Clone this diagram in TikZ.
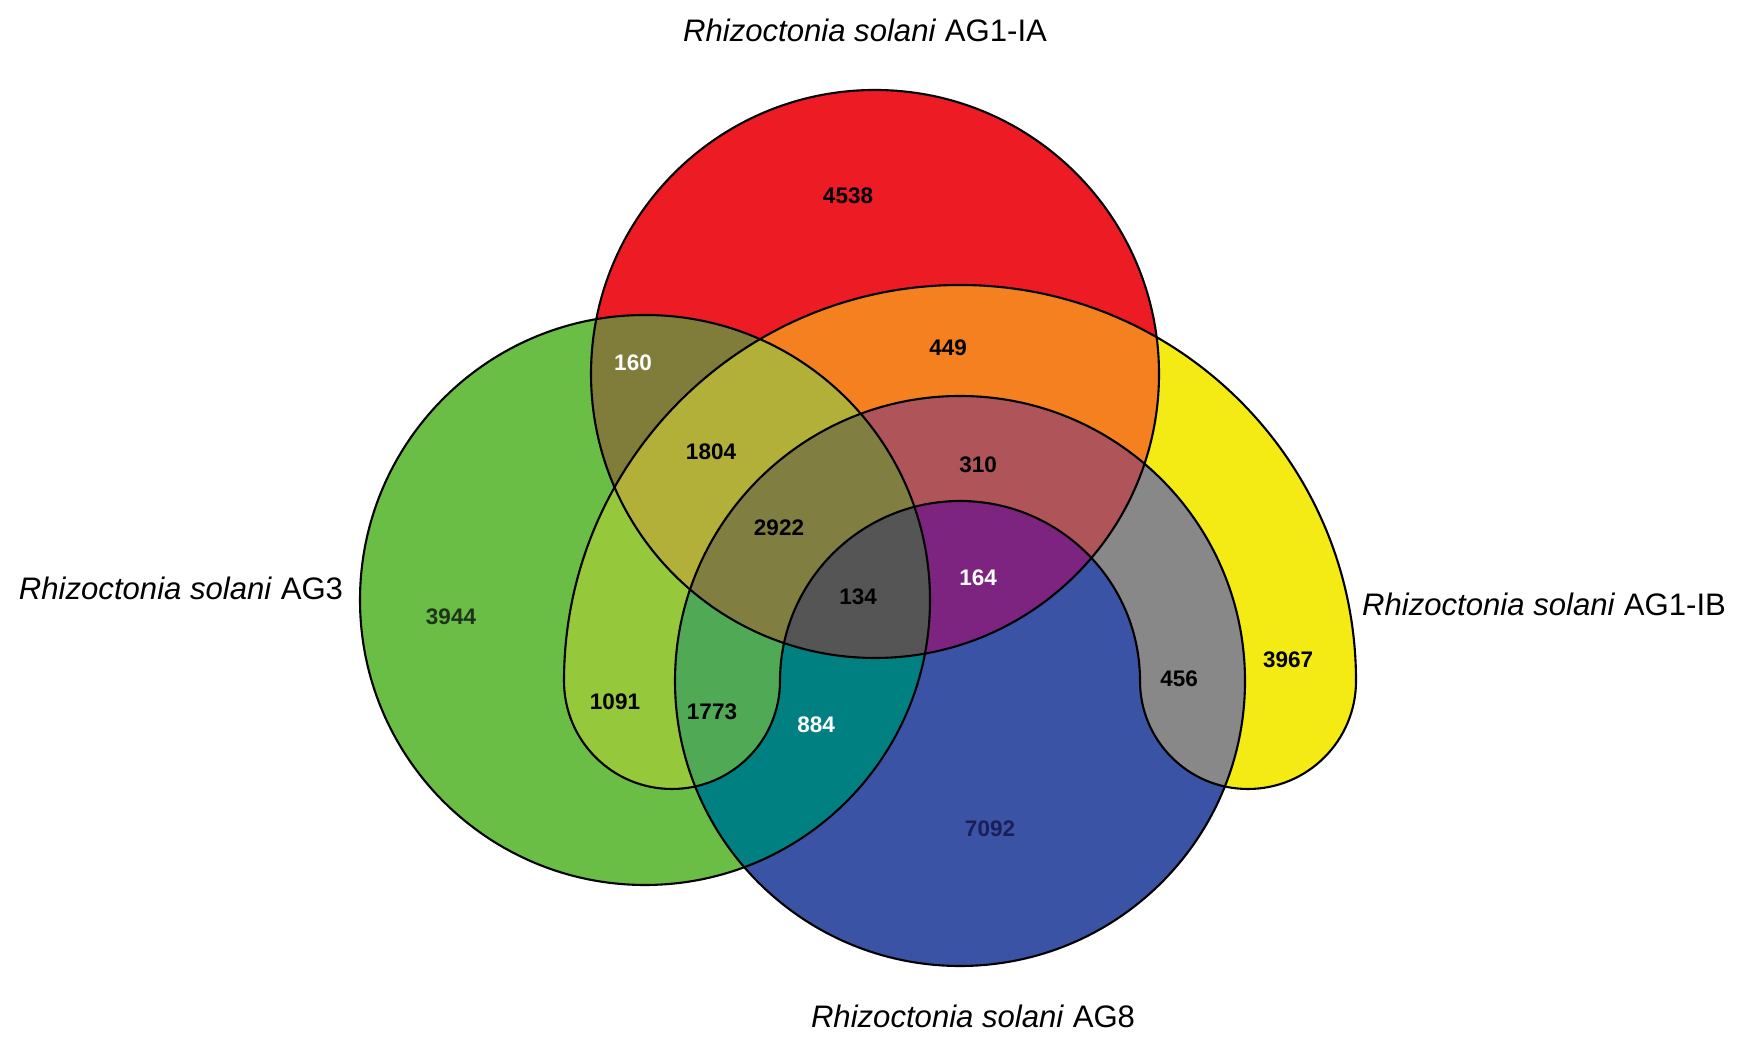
\documentclass[tikz,border=0pt]{standalone}
\usepackage{fontspec}
\setmainfont{Liberation Sans}
\usetikzlibrary{calc}

% Colours of the sets and their overlaps
\definecolor{setred}{RGB}{237,28,36}
\definecolor{setgreen}{RGB}{106,189,69}
\definecolor{setblue}{RGB}{58,83,164}
\definecolor{setyellow}{RGB}{245,235,20}
\definecolor{rg}{RGB}{128,124,58}
\definecolor{ry}{RGB}{245,128,32}
\definecolor{rb}{RGB}{125,36,128}
\definecolor{gy}{RGB}{150,200,60}
\definecolor{gb}{RGB}{0,128,128}
\definecolor{yb}{RGB}{136,136,136}
\definecolor{rgy}{RGB}{178,176,56}
\definecolor{rgb}{RGB}{85,85,85}
\definecolor{ryb}{RGB}{175,85,90}
\definecolor{gyb}{RGB}{80,170,85}
\definecolor{rgyb}{RGB}{128,126,64}
\definecolor{darkgreen}{RGB}{30,52,26}
\definecolor{darknavy}{RGB}{28,30,88}

\begin{document}
\begin{tikzpicture}[
  count/.style={font=\fontsize{6.4}{7.7}\selectfont\bfseries},
  setlabel/.style={font=\fontsize{8.85}{10.6}\selectfont},
  rim/.style={draw=black, line width=0.6pt}
]
\useasboundingbox (0,0) rectangle (17.5,10.46);

% Define centres of the sets
\coordinate (R) at (8.75, 6.72);
\coordinate (G) at (6.45, 4.46);
\coordinate (B) at (9.60, 3.65);
\coordinate (Y) at ($(B)+(-3.96,0)$);

\def\redset{(R) circle (2.84)}
\def\greenset{(G) circle (2.85)}
\def\blueset{(B) circle (2.85)}
\def\yellowset{(Y) arc[start angle=180, end angle=0, radius=3.96]
  arc[start angle=0, end angle=-180, radius=1.08]
  arc[start angle=0, end angle=180, radius=1.80]
  arc[start angle=0, end angle=-180, radius=1.08] -- cycle}

% One set
\fill[setred] \redset;
\fill[setgreen] \greenset;
\fill[setblue] \blueset;
\fill[setyellow] \yellowset;

% Two sets
\begin{scope}
  \clip \redset;
  \fill[rg] \greenset;
  \fill[ry] \yellowset;
  \fill[rb] \blueset;
\end{scope}
\begin{scope}
  \clip \greenset;
  \fill[gy] \yellowset;
  \fill[gb] \blueset;
\end{scope}
\begin{scope}
  \clip \yellowset;
  \fill[yb] \blueset;
\end{scope}

% Three sets
\begin{scope}
  \clip \redset;
  \clip \greenset;
  \fill[rgy] \yellowset;
  \fill[rgb] \blueset;
\end{scope}
\begin{scope}
  \clip \redset;
  \clip \yellowset;
  \fill[ryb] \blueset;
\end{scope}
\begin{scope}
  \clip \greenset;
  \clip \yellowset;
  \fill[gyb] \blueset;
\end{scope}

% Four sets
\begin{scope}
  \clip \redset;
  \clip \greenset;
  \clip \yellowset;
  \fill[rgyb] \blueset;
\end{scope}

% Outlines
\draw[rim] \redset;
\draw[rim] \greenset;
\draw[rim] \blueset;
\draw[rim] \yellowset;

% Counts
\node[count] (c4538) at (8.48, 8.50) {4538};
\node[count] (c449) at (9.48, 6.98) {449};
\node[count, white] (c160) at (6.33, 6.83) {160};
\node[count] (c1804) at (7.11, 5.94) {1804};
\node[count] (c310) at (9.78, 5.81) {310};
\node[count] (c2922) at (7.79, 5.18) {2922};
\node[count, darkgreen] (c3944) at (4.51, 4.29) {3944};
\node[count] (c134) at (8.58, 4.49) {134};
\node[count, white] (c164) at (9.78, 4.68) {164};
\node[count] (c3967) at (12.88, 3.86) {3967};
\node[count] (c456) at (11.79, 3.67) {456};
\node[count] (c1091) at (6.15, 3.44) {1091};
\node[count] (c1773) at (7.12, 3.34) {1773};
\node[count, white] (c884) at (8.16, 3.21) {884};
\node[count, darknavy] (c7092) at (9.90, 2.17) {7092};

% Set names
\node[setlabel] (ag1ia) at (8.65, 10.16) {\textit{Rhizoctonia solani} AG1-IA};
\node[setlabel] (ag3) at (1.81, 4.58) {\textit{Rhizoctonia solani} AG3};
\node[setlabel] (ag1ib) at (15.44, 4.42) {\textit{Rhizoctonia solani} AG1-IB};
\node[setlabel] (ag8) at (9.73, 0.30) {\textit{Rhizoctonia solani} AG8};

\end{tikzpicture}
\end{document}
